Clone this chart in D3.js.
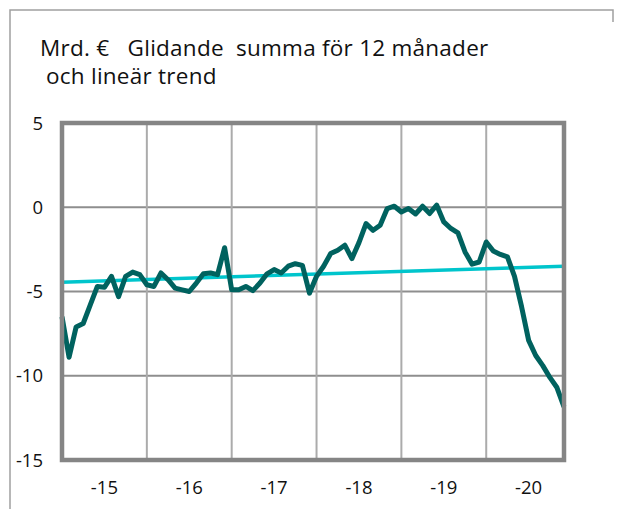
<!DOCTYPE html>
<html>
<head>
<meta charset="utf-8">
<script src="https://cdn.jsdelivr.net/npm/d3@7"></script>
<style>
  body{margin:0;background:#fff;}
  text{font-family:"Open Sans",sans-serif;fill:#111;white-space:pre;}
</style>
</head>
<body>
<svg id="chart" width="618" height="509"></svg>
<script>
// 12 month rolling sum, bn EUR, monthly Jan 2015 - Dec 2020
var values=[-6.5,-8.9,-7.1,-6.9,-5.8,-4.7,-4.75,-4.1,-5.3,-4.1,-3.85,-4.0,
  -4.6,-4.7,-3.9,-4.3,-4.8,-4.9,-5.0,-4.5,-3.95,-3.9,-4.0,-2.4,
  -4.9,-4.9,-4.7,-4.95,-4.5,-3.95,-3.7,-3.9,-3.5,-3.35,-3.45,-5.1,
  -4.1,-3.5,-2.75,-2.55,-2.25,-3.05,-2.1,-0.97,-1.37,-1.07,-0.08,0.06,
  -0.28,-0.08,-0.4,0.06,-0.37,0.12,-0.87,-1.26,-1.52,-2.65,-3.38,-3.25,
  -2.06,-2.6,-2.8,-2.95,-4.1,-5.9,-7.9,-8.8,-9.4,-10.1,-10.7,-11.85];
var trend=[-4.45,-3.5];   // linear trend at first and last month
var yearLabels=["-15","-16","-17","-18","-19","-20"];
var yTicks=[5,0,-5,-10,-15];

function drawChart(){
  var svg=d3.select("#chart");
  var plotL=62,plotR=564,plotT=123,plotB=460;

  var x=d3.scaleLinear().domain([0,values.length-1]).range([plotL,plotR]);
  var y=d3.scaleLinear().domain([-15,5]).range([plotB,plotT]);

  //outer frame
  svg.append("path")
    .attr("d","M10,509 V10 H613 V22")
    .attr("fill","none").attr("stroke","#a0a0a0").attr("stroke-width",1.5);

  //title
  svg.append("text").attr("x",40).attr("y",56).attr("font-size",22.5)
    .attr("letter-spacing",0.25)
    .text("Mrd. €   Glidande  summa för 12 månader");
  svg.append("text").attr("x",46).attr("y",84).attr("font-size",22.5)
    .attr("letter-spacing",0.25)
    .text("och lineär trend");

  //grid
  var grid=svg.append("g");
  grid.selectAll(".hg").data(yTicks.slice(1,-1)).enter().append("line")
    .attr("x1",plotL).attr("x2",plotR)
    .attr("y1",function(d){return y(d);}).attr("y2",function(d){return y(d);})
    .attr("stroke","#8e8e8e").attr("stroke-width",2);
  grid.selectAll(".vg").data(d3.range(1,yearLabels.length)).enter().append("line")
    .attr("x1",function(d){return x(d*12);}).attr("x2",function(d){return x(d*12);})
    .attr("y1",plotT).attr("y2",plotB)
    .attr("stroke","#ababab").attr("stroke-width",2);

  //y labels
  svg.selectAll(".yl").data(yTicks).enter().append("text")
    .attr("x",43).attr("y",function(d){return y(d);}).attr("dy","0.36em")
    .attr("text-anchor","end").attr("font-size",18.5)
    .text(function(d){return d;});

  //x labels
  svg.selectAll(".xl").data(yearLabels).enter().append("text")
    .attr("x",function(d,i){return x(i*12+6);}).attr("y",494)
    .attr("text-anchor","middle").attr("font-size",18.5)
    .text(function(d){return d;});

  //trend
  svg.append("line")
    .attr("x1",x(0)).attr("x2",x(values.length-1))
    .attr("y1",y(trend[0])).attr("y2",y(trend[1]))
    .attr("stroke","#00c5cc").attr("stroke-width",3.5);

  //series
  var line=d3.line().x(function(d,i){return x(i);}).y(function(d){return y(d);});
  svg.append("path").datum(values)
    .attr("d",line)
    .attr("fill","none").attr("stroke","#00625f").attr("stroke-width",5)
    .attr("stroke-linejoin","round");

  //plot border
  svg.append("rect")
    .attr("x",plotL).attr("y",plotT).attr("width",plotR-plotL).attr("height",plotB-plotT)
    .attr("fill","none").attr("stroke","#858585").attr("stroke-width",4.5);
}
drawChart();
</script>
</body>
</html>
